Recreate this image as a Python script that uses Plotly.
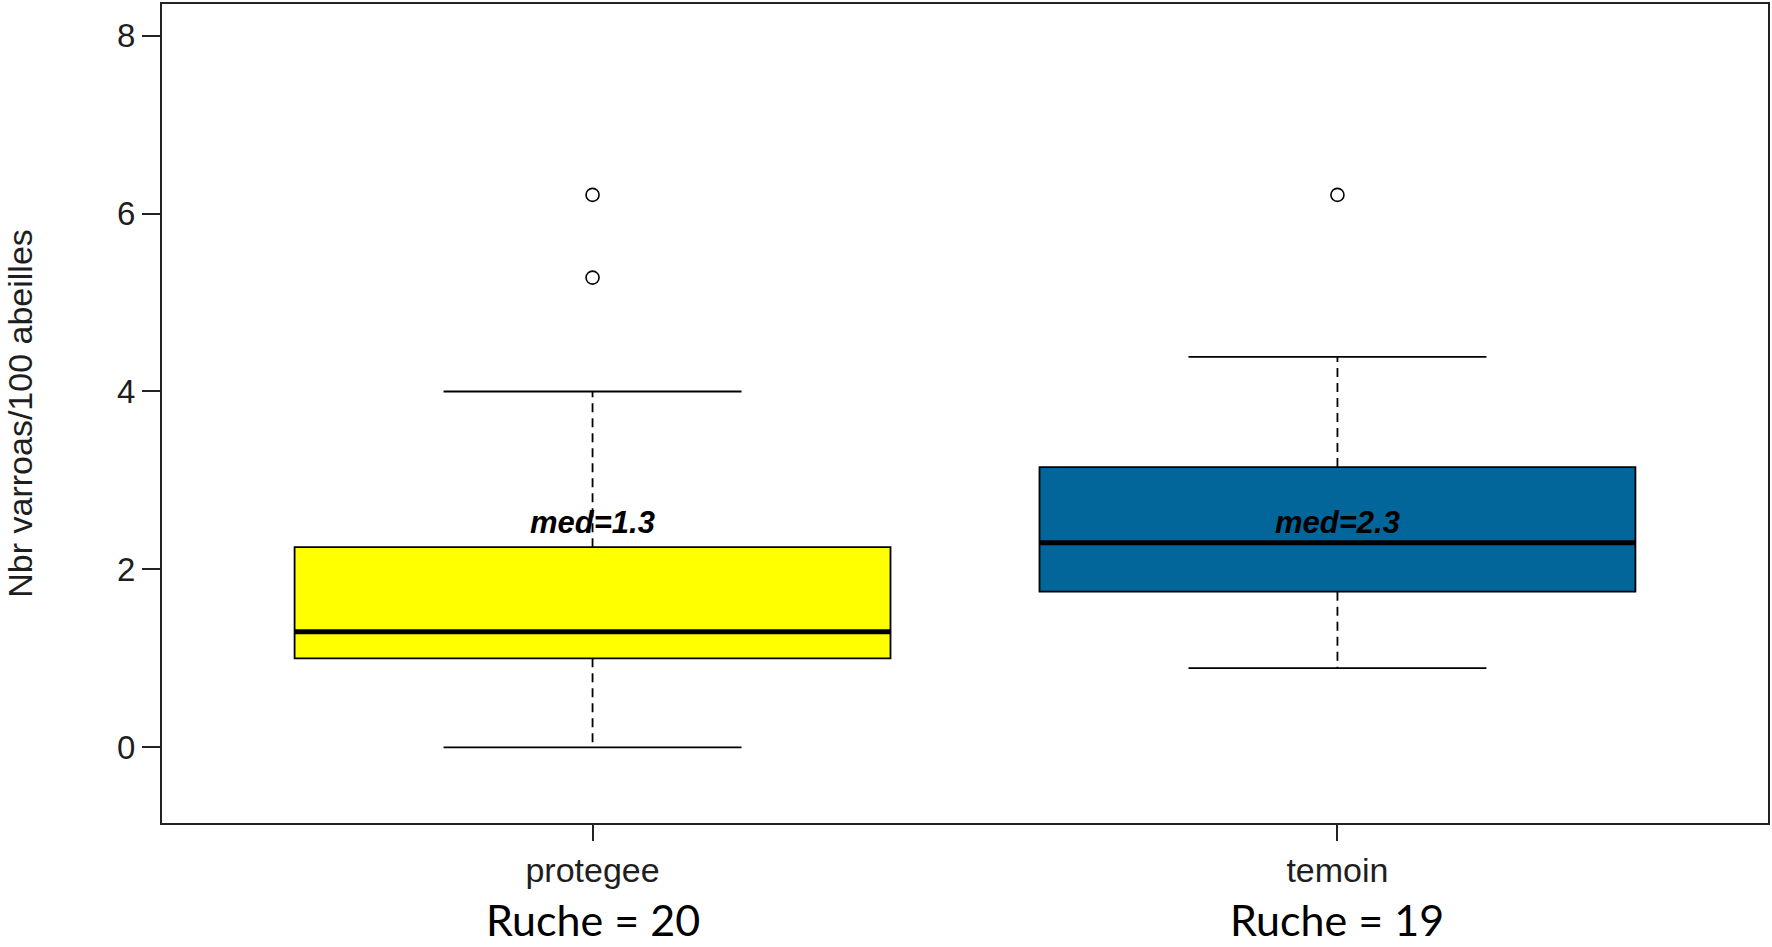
import plotly.graph_objects as go

# ---- data ----
categories = ["protegee", "temoin"]
ruche_counts = [20, 19]
q1 = [1.0, 1.75]
median = [1.3, 2.3]
q3 = [2.25, 3.15]
whisker_low = [0.0, 0.89]
whisker_high = [4.0, 4.39]
outliers = [[5.28, 6.21], [6.21]]
box_colors = ["#FFFF00", "#03669B"]
y_ticks = [0, 2, 4, 6, 8]

# ---- styling parameters ----
BOX_W = 0.8
CAP_W = 0.4
MED_LABEL_Y = 2.53
FONT = "Liberation Sans, Arial, sans-serif"
TXT = "#1e1e1e"

xs = list(range(len(categories)))
fig = go.Figure()

for i, cat in enumerate(categories):
    x = xs[i]
    # box body
    fig.add_trace(go.Box(
        x=[x], q1=[q1[i]], median=[median[i]], q3=[q3[i]],
        lowerfence=[q1[i]], upperfence=[q3[i]],
        width=BOX_W, fillcolor=box_colors[i],
        line=dict(color="black", width=1.8),
        boxpoints=False, whiskerwidth=0, showlegend=False, hoverinfo="skip",
    ))
    # dashed whiskers
    fig.add_trace(go.Scatter(
        x=[x, x, None, x, x],
        y=[q3[i], whisker_high[i], None, q1[i], whisker_low[i]],
        mode="lines", line=dict(color="black", width=1.8, dash="9px,6px"),
        showlegend=False, hoverinfo="skip",
    ))
    # caps
    fig.add_trace(go.Scatter(
        x=[x - CAP_W / 2, x + CAP_W / 2, None, x - CAP_W / 2, x + CAP_W / 2],
        y=[whisker_high[i], whisker_high[i], None, whisker_low[i], whisker_low[i]],
        mode="lines", line=dict(color="black", width=1.8),
        showlegend=False, hoverinfo="skip",
    ))
    # thick median
    fig.add_trace(go.Scatter(
        x=[x - BOX_W / 2, x + BOX_W / 2], y=[median[i], median[i]],
        mode="lines", line=dict(color="black", width=5),
        showlegend=False, hoverinfo="skip",
    ))
    # outliers
    fig.add_trace(go.Scatter(
        x=[x] * len(outliers[i]), y=outliers[i], mode="markers",
        marker=dict(symbol="circle-open", size=13, color="black", line=dict(width=1.6)),
        showlegend=False, hoverinfo="skip",
    ))
    # median label
    fig.add_annotation(
        x=x, y=MED_LABEL_Y, xref="x", yref="y",
        text=f"<b><i>med={median[i]}</i></b>", showarrow=False,
        font=dict(family=FONT, size=31, color="black"),
        xanchor="center", yanchor="middle",
    )
    # Ruche count label
    fig.add_annotation(
        x=x, y=-0.118, xref="x", yref="paper",
        text=f"Ruche = {ruche_counts[i]}", showarrow=False,
        font=dict(family="Lato, Carlito, sans-serif", size=43, color="black"),
        xanchor="center", yanchor="middle",
    )

# y axis title
fig.add_annotation(
    x=-0.0889, y=0.5, xref="paper", yref="paper",
    text="Nbr varroas/100 abeilles", showarrow=False, textangle=-90,
    font=dict(family=FONT, size=34, color=TXT),
    xanchor="center", yanchor="middle",
)

fig.update_layout(
    width=1772, height=947,
    margin=dict(l=162, r=2, t=3, b=124),
    paper_bgcolor="white", plot_bgcolor="white",
    font=dict(family=FONT, color=TXT),
)
fig.update_xaxes(
    range=[-0.578, 1.578], tickvals=xs, ticktext=categories,
    showgrid=False, zeroline=False,
    showline=True, mirror=True, linecolor="#222", linewidth=2,
    ticks="outside", ticklen=16, tickwidth=1.5, tickcolor="#222",
    tickfont=dict(family=FONT, size=34, color=TXT),
)
fig.update_yaxes(
    range=[-0.851, 8.356], tickvals=y_ticks, ticktext=[str(t) for t in y_ticks],
    showgrid=False, zeroline=False,
    showline=True, mirror=True, linecolor="#222", linewidth=2,
    ticks="outside", ticklen=18, tickwidth=1.5, tickcolor="#222",
    tickfont=dict(family=FONT, size=33, color=TXT),
)

fig.write_html("out.html", config={"displayModeBar": False},
               post_script="document.body.style.margin='0';")
